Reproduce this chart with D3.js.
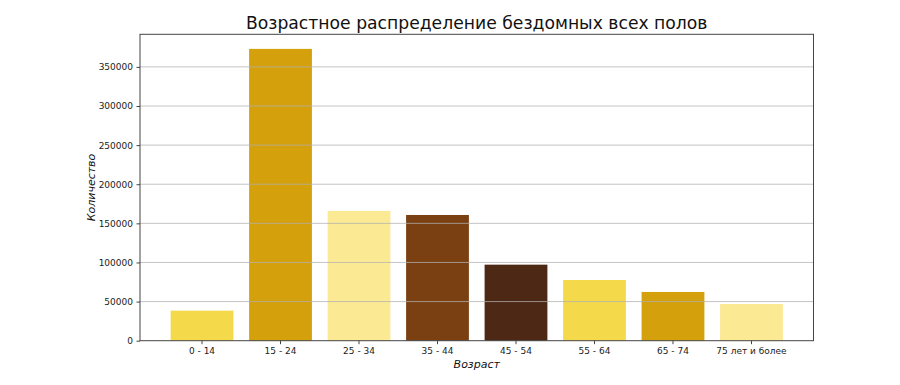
<!DOCTYPE html>
<html><head><meta charset="utf-8">
<script src="https://cdn.jsdelivr.net/npm/d3@7"></script>
<style>body{margin:0;background:#fff}svg{display:block;font-family:"DejaVu Sans",sans-serif}</style>
</head><body>
<svg id="c" width="900" height="385"></svg>
<script>
const categories = ["0 - 14","15 - 24","25 - 34","35 - 44","45 - 54","55 - 64","65 - 74","75 лет и более"];
const values = [38400, 373000, 165900, 160700, 97200, 77600, 62300, 46900];
const colors = ["#F4DA4B","#D4A00C","#FCE994","#7B4012","#4D2915","#F4DA4B","#D4A00C","#FCE994"];
const yTicks = [0,50000,100000,150000,200000,250000,300000,350000];
const title = "Возрастное распределение бездомных всех полов";
const xLabel = "Возраст", yLabel = "Количество";

const svg = d3.select("#c");
const L=140, R=813.5, T=34.3, B=340.7;
const x = d3.scaleBand().domain(categories).range([L,R]).paddingInner(0.2).paddingOuter(0.39);
const y = d3.scaleLinear().domain([0, d3.max(values)*1.05]).range([B,T]);

svg.append("g").selectAll("rect").data(values).join("rect")
  .attr("x",(d,i)=>x(categories[i])).attr("width",x.bandwidth())
  .attr("y",d=>y(d)).attr("height",d=>B-y(d)).attr("fill",(d,i)=>colors[i]);

svg.append("g").selectAll("line").data(yTicks.filter(t=>t>0)).join("line")
  .attr("x1",L).attr("x2",R).attr("y1",d=>y(d)).attr("y2",d=>y(d))
  .attr("stroke","#b0b0b0").attr("stroke-opacity",0.75).attr("stroke-width",1);

const yAxis = svg.append("g").attr("transform",`translate(${L},0)`)
  .call(d3.axisLeft(y).tickValues(yTicks).tickFormat(d3.format("d")).tickSize(3.5).tickPadding(3.5));
const xAxis = svg.append("g").attr("transform",`translate(0,${B})`)
  .call(d3.axisBottom(x).tickSize(3.5).tickPadding(3.5));
[yAxis,xAxis].forEach(g=>{
  g.select(".domain").remove();
  g.selectAll("text").attr("font-family","DejaVu Sans").attr("font-size","9px").attr("fill","#222");
  g.selectAll("line").attr("stroke","#444");
});

svg.append("rect").attr("x",L).attr("y",T).attr("width",R-L).attr("height",B-T)
  .attr("fill","none").attr("stroke","#444").attr("stroke-width",1);

svg.append("text").attr("x",(L+R)/2).attr("y",28.5).attr("text-anchor","middle")
  .attr("font-size","17.2px").attr("fill","#111").text(title);
svg.append("text").attr("x",(L+R)/2).attr("y",367.5).attr("text-anchor","middle")
  .attr("font-size","11px").attr("font-style","italic").attr("fill","#111").text(xLabel);
svg.append("text").attr("transform",`translate(95,${(T+B)/2}) rotate(-90)`).attr("text-anchor","middle")
  .attr("font-size","11px").attr("font-style","italic").attr("fill","#111").text(yLabel);
</script>
</body></html>
